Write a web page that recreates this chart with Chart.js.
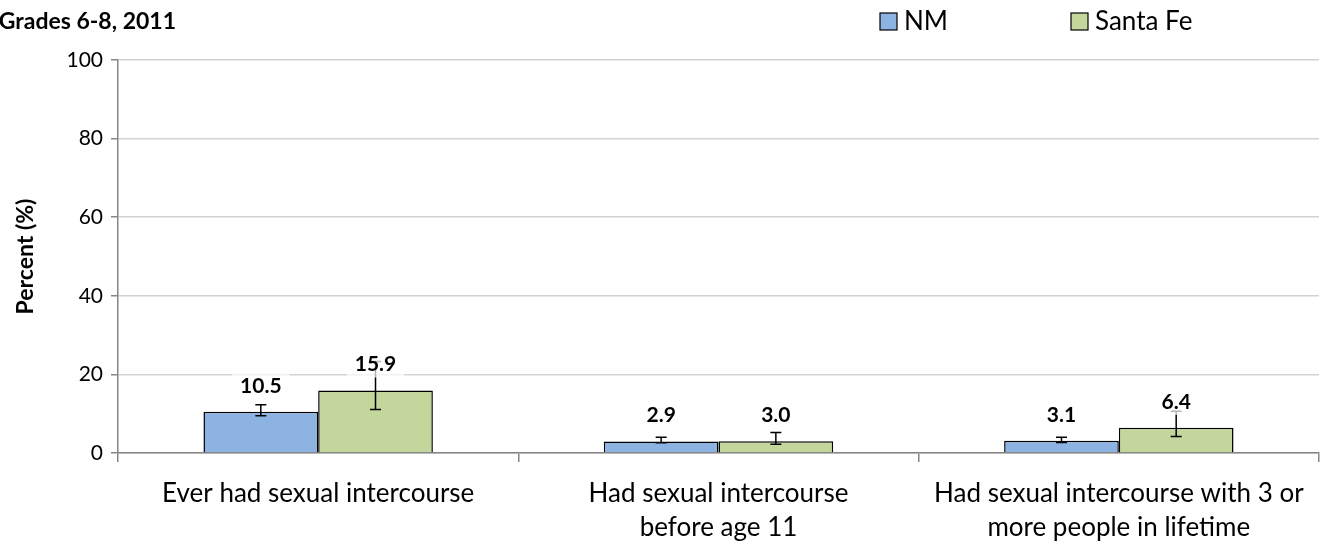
<!DOCTYPE html>
<html lang="en">
<head>
<meta charset="UTF-8">
<title>Sexual behavior, Grades 6-8, 2011</title>
<script src="https://cdn.jsdelivr.net/npm/chart.js@4.4.1/dist/chart.umd.min.js"></script>
<style>
    body { margin: 0; background: #fff; }
    #wrap { position: relative; width: 1328px; height: 544px; }
</style>
</head>
<body>
<div id="wrap"><canvas id="chart"></canvas></div>
<script>
// categories (multi-line labels) and survey values with 95% CI
const categories = [
    ["Ever had sexual intercourse"],
    ["Had sexual intercourse", "before age 11"],
    ["Had sexual intercourse with 3 or", "more people in lifetime"]
];
const nmValues = [10.5, 2.9, 3.1];
const nmLow = [9.5, 2.6, 2.7];
const nmHigh = [12.3, 4.0, 4.0];
const sfValues = [15.9, 3.0, 6.4];
const sfLow = [11.1, 2.2, 4.2];
const sfHigh = [23.3, 5.2, 10.6];
const yTicks = [0, 20, 40, 60, 80, 100];

const titleText = "Grades 6-8, 2011";
const axisGray = "#868686";

Chart.defaults.font.family = "Lato, 'Open Sans', sans-serif";
Chart.defaults.color = "#000";

// whiskers for the confidence intervals
const errorBars = {
    id: "errorBars",
    afterDatasetsDraw(chart) {
        const ctx = chart.ctx;
        const y = chart.scales.y;
        ctx.save();
        ctx.strokeStyle = "#000";
        ctx.lineWidth = 1.5;
        chart.data.datasets.forEach((ds, i) => {
            chart.getDatasetMeta(i).data.forEach((bar, j) => {
                const top = y.getPixelForValue(ds.errHigh[j]);
                const bot = y.getPixelForValue(ds.errLow[j]);
                ctx.beginPath();
                ctx.moveTo(bar.x, top); ctx.lineTo(bar.x, bot);
                ctx.moveTo(bar.x - 5.5, top); ctx.lineTo(bar.x + 5.5, top);
                ctx.moveTo(bar.x - 5.5, bot); ctx.lineTo(bar.x + 5.5, bot);
                ctx.stroke();
            });
        });
        ctx.restore();
    }
};

// value labels above each bar
const valueLabels = {
    id: "valueLabels",
    afterDatasetsDraw(chart) {
        const ctx = chart.ctx;
        ctx.save();
        ctx.font = "bold 21px Lato";
        ctx.textAlign = "center";
        ctx.textBaseline = "middle";
        chart.data.datasets.forEach((ds, i) => {
            chart.getDatasetMeta(i).data.forEach((bar, j) => {
                const txt = ds.data[j].toFixed(1);
                const w = ctx.measureText(txt).width + 16;
                const cy = bar.y - 26;
                ctx.fillStyle = "rgba(255,255,255,0.7)";
                ctx.fillRect(bar.x - w / 2, cy - 13, w, 26);
                ctx.fillStyle = "#000";
                ctx.fillText(txt, bar.x, cy);
            });
        });
        ctx.restore();
    }
};

// title top-left and legend top-right
const header = {
    id: "header",
    afterDraw(chart) {
        const ctx = chart.ctx;
        ctx.save();
        ctx.fillStyle = "#000";
        ctx.font = "bold 23px Lato";
        ctx.textAlign = "right";
        ctx.textBaseline = "alphabetic";
        ctx.fillText(titleText, 176, 29);

        const spots = [880, 1071];
        ctx.font = "26px Lato";
        ctx.textAlign = "left";
        ctx.textBaseline = "middle";
        chart.data.datasets.forEach((ds, i) => {
            const x = spots[i];
            ctx.fillStyle = ds.backgroundColor;
            ctx.fillRect(x, 13, 17, 17);
            ctx.strokeStyle = "#000";
            ctx.lineWidth = 1.2;
            ctx.strokeRect(x, 13, 17, 17);
            ctx.fillStyle = "#000";
            ctx.fillText(ds.label, x + 24, 22);
        });
        ctx.restore();
    }
};

new Chart(document.getElementById("chart"), {
    type: "bar",
    data: {
        labels: categories,
        datasets: [
            {
                label: "NM",
                data: nmValues,
                errLow: nmLow,
                errHigh: nmHigh,
                backgroundColor: "#8db3e2",
                borderColor: "#000",
                borderWidth: 1.5
            },
            {
                label: "Santa Fe",
                data: sfValues,
                errLow: sfLow,
                errHigh: sfHigh,
                backgroundColor: "#c3d69b",
                borderColor: "#000",
                borderWidth: 1.5
            }
        ]
    },
    options: {
        responsive: true,
        maintainAspectRatio: false,
        animation: false,
        layout: { padding: { top: 60, right: 9, left: 0, bottom: 0 } },
        datasets: { bar: { categoryPercentage: 0.573, barPercentage: 1.0 } },
        plugins: {
            legend: { display: false },
            tooltip: { enabled: false }
        },
        scales: {
            x: {
                z: 1,
                grid: {
                    offset: true,
                    drawOnChartArea: false,
                    drawTicks: true,
                    tickLength: 9,
                    color: axisGray,
                    lineWidth: 1.5
                },
                border: { color: axisGray, width: 1.5 },
                ticks: {
                    autoSkip: false,
                    maxRotation: 0,
                    padding: 15,
                    font: { size: 26, lineHeight: "34px" }
                },
                afterFit(scale) { scale.height = 91; }
            },
            y: {
                min: 0,
                max: 100,
                afterBuildTicks(scale) { scale.ticks = yTicks.map(v => ({ value: v })); },
                ticks: { padding: 8, font: { size: 21 } },
                grid: { color: "#d3d3d3", lineWidth: 1.5, tickColor: axisGray, tickLength: 7 },
                border: { color: axisGray, width: 1.5 },
                title: {
                    display: true,
                    text: "Percent (%)",
                    font: { size: 23, weight: "bold" },
                    padding: { top: 12, bottom: 4 }
                },
                afterFit(scale) { scale.width = 118; }
            }
        }
    },
    plugins: [errorBars, valueLabels, header]
});
</script>
</body>
</html>
